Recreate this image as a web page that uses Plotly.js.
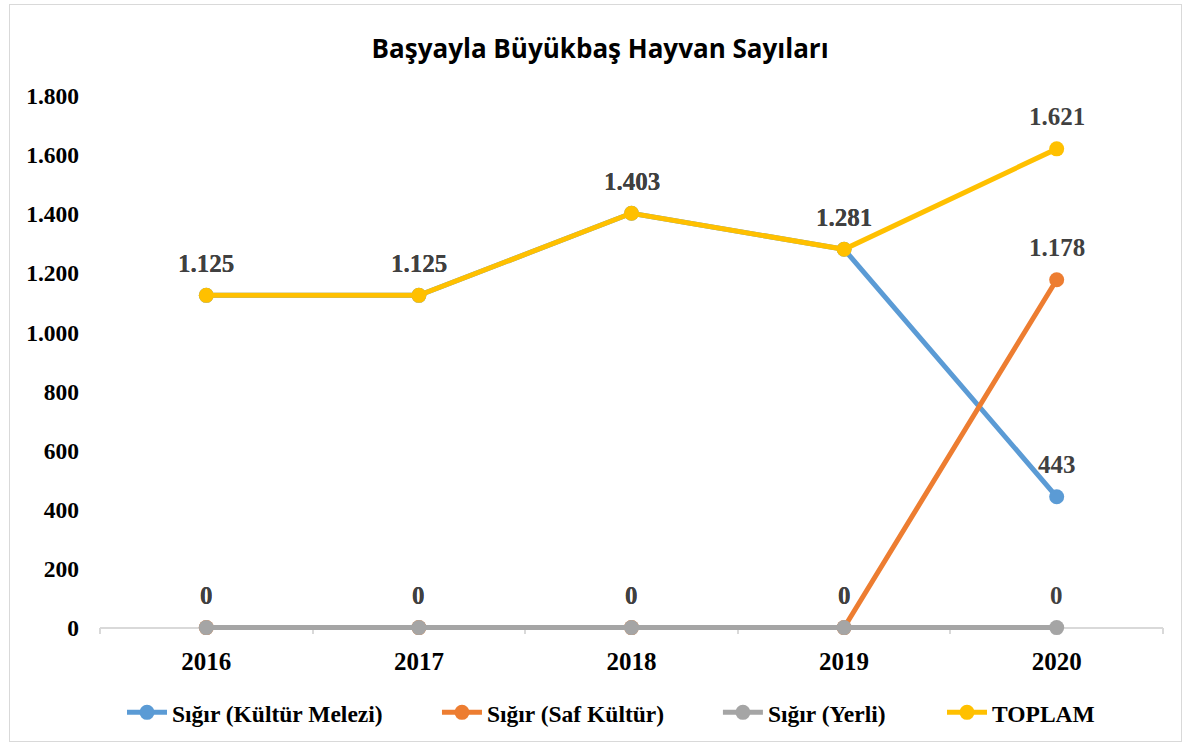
<!DOCTYPE html>
<html>
<head>
<meta charset="utf-8">
<script src="https://cdn.plot.ly/plotly-3.0.1.min.js"></script>
<style>
html,body{margin:0;padding:0;background:#fff;}
#wrap{position:relative;width:1186px;height:746px;}
#frame{position:absolute;left:9px;top:4px;width:1173px;height:738px;border:1px solid #d9d9d9;box-sizing:border-box;pointer-events:none;}
#chart{position:absolute;left:0;top:0;width:1186px;height:746px;}
</style>
</head>
<body>
<div id="wrap"><div id="chart"></div><div id="frame"></div></div>
<script>
const years = ["2016", "2017", "2018", "2019", "2020"];
const kulturMelezi = [1125, 1125, 1403, 1281, 443];
const safKultur = [0, 0, 0, 0, 1178];
const yerli = [0, 0, 0, 0, 0];
const toplam = [1125, 1125, 1403, 1281, 1621];

const seriesNames = ["Sığır (Kültür Melezi)", "Sığır (Saf Kültür)", "Sığır (Yerli)", "TOPLAM"];
const seriesValues = [kulturMelezi, safKultur, yerli, toplam];
const seriesColors = ["#5B9BD5", "#ED7D31", "#A5A5A5", "#FFC000"];
const legendIds = ["legend", "legend2", "legend3", "legend4"];
const legendX = [0.0207, 0.3170, 0.5813, 0.7921];

function fmt(v) {
  return String(v).replace(/\B(?=(\d{3})+(?!\d))/g, ".");
}

const traces = seriesValues.map((vals, i) => ({
  type: "scatter",
  mode: "lines+markers",
  name: seriesNames[i],
  legend: legendIds[i],
  showlegend: true,
  x: years,
  y: vals,
  cliponaxis: false,
  line: {color: seriesColors[i], width: 5},
  marker: {color: seriesColors[i], size: 15},
  hoverinfo: "x+y+name"
}));

const annotations = [];
seriesValues.forEach(vals => {
  vals.forEach((v, j) => {
    annotations.push({
      x: j, y: v, xref: "x", yref: "y",
      text: "<b>" + fmt(v) + "</b>", showarrow: false, yshift: 32,
      font: {family: "Liberation Serif, Times New Roman, serif", size: 25, color: "#404040"}
    });
  });
});

const yMin = -25, yMax = 1800;

const layout = {
  width: 1186, height: 746,
  paper_bgcolor: "rgba(0,0,0,0)", plot_bgcolor: "rgba(0,0,0,0)",
  separators: ",.",
  showlegend: true,
  margin: {l: 100, r: 23, t: 96, b: 110.6},
  title: {
    text: "<b>Başyayla Büyükbaş Hayvan Sayıları</b>",
    font: {family: "Open Sans, sans-serif", size: 26, color: "#000"},
    x: 0.506, xanchor: "center", y: 0.935, yanchor: "middle"
  },
  xaxis: {
    type: "category",
    range: [-0.5, 4.5],
    anchor: "free", position: -yMin / (yMax - yMin),
    showgrid: false, zeroline: false,
    showline: true, linecolor: "#d9d9d9", linewidth: 1.5,
    ticks: "outside", tickson: "boundaries", ticklen: 6, tickcolor: "#d9d9d9", tickwidth: 1.5,
    ticklabelstandoff: 12,
    tickfont: {family: "Liberation Serif, Times New Roman, serif", size: 25, color: "#000", weight: "bold"},
    layer: "below traces"
  },
  yaxis: {
    range: [yMin, yMax], dtick: 200, tick0: 0,
    tickformat: ",d",
    showgrid: false, zeroline: false, showline: false,
    ticks: "", ticklabelstandoff: 20,
    tickfont: {family: "Liberation Serif, Times New Roman, serif", size: 23.5, color: "#000", weight: "bold"}
  },
  annotations: annotations
};

legendIds.forEach((id, i) => {
  layout[id] = {
    visible: true,
    orientation: "h", x: legendX[i], xanchor: "left", y: -0.1439, yanchor: "middle",
    bgcolor: "rgba(0,0,0,0)",
    font: {family: "Liberation Serif, Times New Roman, serif", size: 23.5, color: "#000", weight: "bold"},
    itemwidth: 40
  };
});

Plotly.newPlot("chart", traces, layout, {displayModeBar: false, responsive: false});
</script>
</body>
</html>
